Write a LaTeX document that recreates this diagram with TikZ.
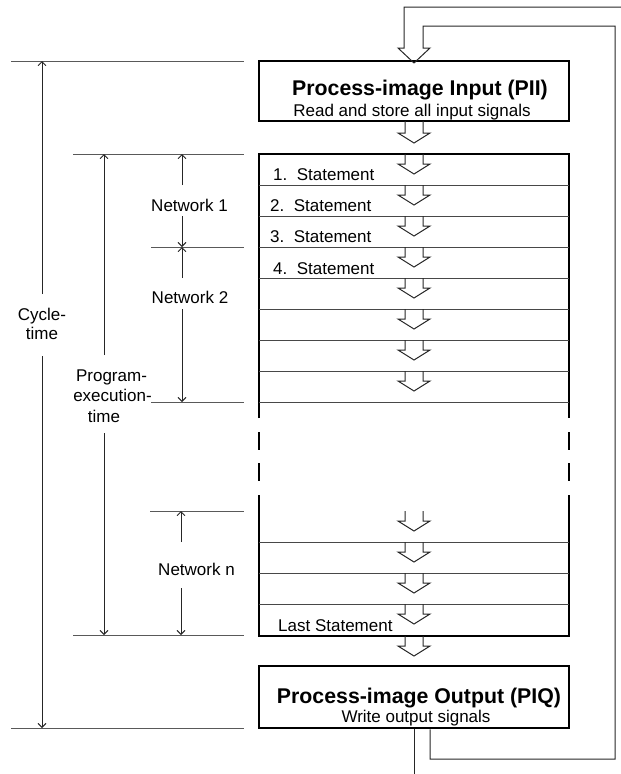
\documentclass[tikz,border=0pt]{standalone}
\usepackage{fontspec}
\setmainfont{Liberation Sans}
\usetikzlibrary{arrows.meta}
\newcommand\hollowdown[2][10]{%
  \draw[harrowline,shift={(414,#2)}] (-9,0) -- (-9,#1) -- (-16,#1) -- (0,{#1+10}) -- (16,#1) -- (9,#1) -- (9,0);}
\begin{document}
\begin{tikzpicture}[x=1pt,y=-1pt,
  boxline/.style={line width=2.5pt,draw=black},
  procbox/.style={boxline,rectangle,inner sep=0pt,minimum width=310pt},
  rowline/.style={line width=1pt,draw=black!72},
  extline/.style={line width=1pt,draw=black!65},
  dimline/.style={line width=1pt,draw=black!85,-{Straight Barb[length=4pt,width=8pt,line width=0.9pt]}},
  loopline/.style={line width=1pt,draw=black!85,line join=miter},
  harrowline/.style={line width=1pt,draw=black!85,line join=miter},
  txt/.style={font=\fontsize{17}{20}\selectfont,inner sep=0pt},
  titletxt/.style={font=\fontsize{21.3}{25}\selectfont\bfseries,inner sep=0pt}]
\useasboundingbox (0,0) rectangle (621,774);

% process-image boxes
\node[procbox,minimum height=60pt] (pii) at (414,91) {};
\node[procbox,minimum height=62pt] (piq) at (414,697) {};
\node[titletxt,anchor=base] (piiT) at (420,95) {Process-image Input (PII)};
\node[txt,anchor=base] (piiS) at (412,116.5) {Read and store all input signals};
\node[titletxt,anchor=base] (piqT) at (419,703) {Process-image Output (PIQ)};
\node[txt,anchor=base] (piqS) at (416,722) {Write output signals};

% statement block
\draw[boxline] (259,418) -- (259,154) -- (569,154) -- (569,418);
\draw[boxline] (259,495) -- (259,636) -- (569,636) -- (569,495);
\draw[boxline] (259,432) -- (259,450) (259,463) -- (259,481)
               (569,432) -- (569,450) (569,463) -- (569,481);
\foreach \y in {185,216,247,278,309,340,371,402,542,573,604}
  \draw[rowline] (259,\y) -- (569,\y);
\foreach \y in {154,185,216,247,278,309,340,371,511,542,573,604}
  \hollowdown{\y};
\hollowdown[12]{121}
\hollowdown[10]{636}

\node[txt,anchor=base west] (s1) at (273,180) {1.\ \ Statement};
\node[txt,anchor=base west] (s2) at (270,211) {2.\ \ Statement};
\node[txt,anchor=base west] (s3) at (270,242) {3.\ \ Statement};
\node[txt,anchor=base west] (s4) at (273,274) {4.\ \ Statement};
\node[txt,anchor=base west] (sL) at (278,631) {Last Statement};

% feedback loop and output
\coordinate (topin) at (621,7);
\coordinate (loopx) at (430,759);
\coordinate (outend) at (414,774);
\draw[loopline] (topin) -- (404,7) -- (404,48) -- (398,48) -- (414,63) -- (430,48)
  -- (423,48) -- (423,26) -- (615,26) -- (615,759) -- (loopx) -- (loopx |- piq.south);
\draw[loopline] (piq.south) -- (outend);

% extension lines
\draw[extline] (11,61) -- (244,61);
\draw[extline] (73,154) -- (244,154);
\draw[extline] (151,247) -- (244,247);
\draw[extline] (151,402) -- (244,402);
\draw[extline] (150,511) -- (244,511);
\draw[extline] (73,635) -- (244,635);
\draw[extline] (11,728) -- (244,728);

% dimension coordinates
\coordinate (cyT) at (42,61);   \coordinate (cyG1) at (42,294);
\coordinate (cyB) at (42,728);  \coordinate (cyG2) at (42,356);
\coordinate (peT) at (104,154); \coordinate (peG1) at (104,355);
\coordinate (peB) at (104,635); \coordinate (peG2) at (104,433);
\coordinate (n1T) at (182,154); \coordinate (n1G1) at (182,185);
\coordinate (n1B) at (182,247); \coordinate (n1G2) at (182,216);
\coordinate (n2T) at (182,247); \coordinate (n2G1) at (182,278);
\coordinate (n2B) at (182,402); \coordinate (n2G2) at (182,309);
\coordinate (nnT) at (181,511); \coordinate (nnG1) at (181,542);
\coordinate (nnB) at (181,635); \coordinate (nnG2) at (181,588);

\draw[dimline] (cyG1) -- (cyT);  \draw[dimline] (cyG2) -- (cyB);
\draw[dimline] (peG1) -- (peT);  \draw[dimline] (peG2) -- (peB);
\draw[dimline] (n1G1) -- (n1T);  \draw[dimline] (n1G2) -- (n1B);
\draw[dimline] (n2G1) -- (n2T);  \draw[dimline] (n2G2) -- (n2B);
\draw[dimline] (nnG1) -- (nnT);  \draw[dimline] (nnG2) -- (nnB);

% dimension labels
\node[txt,anchor=base] (cy1) at (42,320) {Cycle-};
\node[txt,anchor=base] (cy2) at (42,339.5) {time};
\node[txt,anchor=base] (pe1) at (111.5,381.5) {Program-};
\node[txt,anchor=base] (pe2) at (112.5,401.5) {execution-};
\node[txt,anchor=base] (pe3) at (104,422.5) {time};
\node[txt,anchor=base] (n1L) at (189.5,211) {Network 1};
\node[txt,anchor=base] (n2L) at (190,303) {Network 2};
\node[txt,anchor=base] (nnL) at (196.5,575) {Network n};
\end{tikzpicture}
\end{document}
